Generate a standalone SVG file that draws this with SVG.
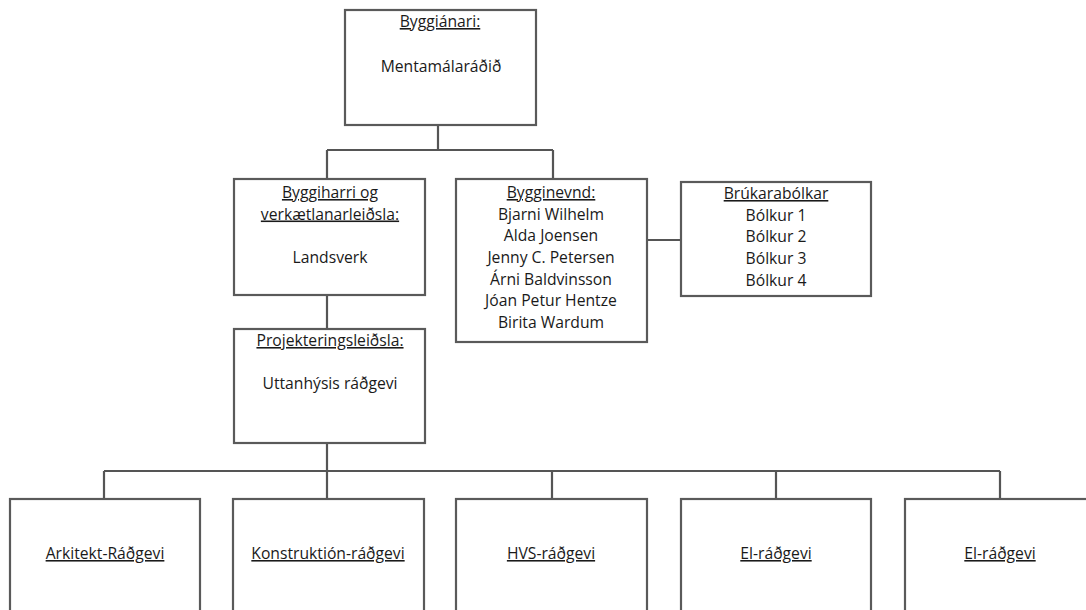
<svg xmlns="http://www.w3.org/2000/svg" width="1086" height="610" viewBox="0 0 1086 610">
<style>
.box{fill:#fff;stroke:#5a5a5a;stroke-width:2.2}
.ln{fill:none;stroke:#555;stroke-width:2.2}
text{font-family:"Open Sans","Liberation Sans",Arial,sans-serif;font-size:15.7px;fill:#1a1a1a;text-anchor:middle}
.u{text-decoration:underline}
</style>
<rect width="1086" height="610" fill="#fff"/>
<g id="connectors">
<path class="ln" d="M438 125V150M327 150H553M327 150V179M553 150V179"/>
<path class="ln" d="M327 295V329"/>
<path class="ln" d="M647 240H682"/>
<path class="ln" d="M327 443V499M104 471H1000M104 471V499M552 471V499M776 471V499M1000 471V499"/>
</g>
<g id="n-byggianari">
<rect class="box" x="345" y="10" width="191" height="115"/>
<text class="u" x="440" y="27">Byggiánari:</text>
<text x="441" y="72">Mentamálaráðið</text>
</g>
<g id="n-byggiharri">
<rect class="box" x="234" y="179" width="191" height="116"/>
<text class="u" x="330" y="198">Byggiharri og </text>
<text class="u" x="330" y="219.5">verkætlanarleiðsla:</text>
<text x="330" y="263">Landsverk</text>
</g>
<g id="n-bygginevnd">
<rect class="box" x="456" y="179" width="191" height="163"/>
<text class="u" x="551" y="198">Bygginevnd:</text>
<text x="551" y="219.5">Bjarni Wilhelm</text>
<text x="551" y="241">Alda Joensen</text>
<text x="551" y="263">Jenny C. Petersen</text>
<text x="551" y="284.5">Árni Baldvinsson</text>
<text x="551" y="306">Jóan Petur Hentze</text>
<text x="551" y="328">Birita Wardum</text>
</g>
<g id="n-brukarabolkar">
<rect class="box" x="681" y="182" width="190" height="114"/>
<text class="u" x="776" y="199">Brúkarabólkar</text>
<text x="776" y="220.5">Bólkur 1</text>
<text x="776" y="242">Bólkur 2</text>
<text x="776" y="264">Bólkur 3</text>
<text x="776" y="285.5">Bólkur 4</text>
</g>
<g id="n-projektering">
<rect class="box" x="234" y="329" width="191" height="114"/>
<text class="u" x="330" y="346">Projekteringsleiðsla:</text>
<text x="330" y="389">Uttanhýsis ráðgevi</text>
</g>
<g id="n-arkitekt">
<rect class="box" x="10" y="499" width="190" height="130"/>
<text class="u" x="105" y="559">Arkitekt-Ráðgevi</text>
</g>
<g id="n-konstruktion">
<rect class="box" x="233" y="499" width="191" height="130"/>
<text class="u" x="328" y="559">Konstruktión-ráðgevi</text>
</g>
<g id="n-hvs">
<rect class="box" x="456" y="499" width="191" height="130"/>
<text class="u" x="551" y="559">HVS-ráðgevi</text>
</g>
<g id="n-el1">
<rect class="box" x="681" y="499" width="190" height="130"/>
<text class="u" x="776" y="559">El-ráðgevi</text>
</g>
<g id="n-el2">
<rect class="box" x="905" y="499" width="190" height="130"/>
<text class="u" x="1000" y="559">El-ráðgevi</text>
</g>
</svg>
